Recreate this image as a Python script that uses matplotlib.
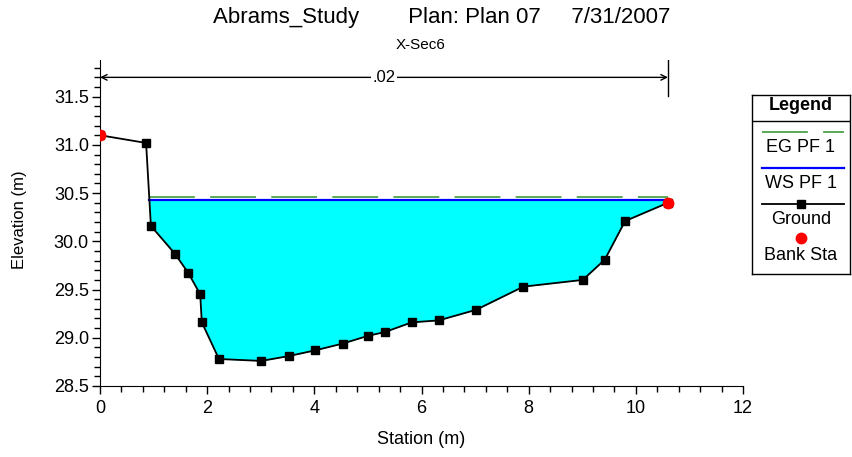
import matplotlib
matplotlib.use("Agg")
import matplotlib.pyplot as plt
import numpy as np
from matplotlib.ticker import MultipleLocator, FormatStrFormatter

plt.rcParams['font.family'] = ['Liberation Sans', 'DejaVu Sans']
plt.rcParams['lines.scale_dashes'] = False

# Cross-section data
station = [0.0, 0.86, 0.95, 1.40, 1.65, 1.87, 1.90, 2.22, 3.01, 3.52, 4.02,
           4.53, 5.00, 5.32, 5.82, 6.32, 7.02, 7.90, 9.01, 9.42, 9.80, 10.60]
elevation = [31.10, 31.02, 30.16, 29.87, 29.67, 29.45, 29.16, 28.78, 28.76, 28.81, 28.87,
             28.94, 29.02, 29.06, 29.16, 29.18, 29.29, 29.53, 29.60, 29.81, 30.21, 30.40]
bank_sta = [0.0, 10.60]
ws_elev = 30.43
eg_elev = 30.46
n_value = ".02"

title = "Abrams_Study        Plan: Plan 07     7/31/2007"
subtitle = "X-Sec6"

W, H = 852, 457
fig = plt.figure(figsize=(W / 100, H / 100), dpi=100)
ax = fig.add_axes([100 / W, (H - 386) / H, 643 / W, 326 / H])

sta = np.array(station)
elv = np.array(elevation)

# left edge of water: where the ground drops below the water surface
i = int(np.argmax(elv < ws_elev))
x_left = sta[i - 1] + (elv[i - 1] - ws_elev) / (elv[i - 1] - elv[i]) * (sta[i] - sta[i - 1])
x_right = sta[-1]

ax.fill_between(sta, elv, ws_elev, where=elv <= ws_elev, interpolate=True,
                color='#00ffff', lw=0, zorder=1)
ax.plot([x_left, x_right], [eg_elev, eg_elev], color='#3c9a3c', lw=1.2,
        linestyle=(0, (33, 11)), zorder=2)
ax.plot([x_left, x_right], [ws_elev, ws_elev], color='#0000ff', lw=1.6, zorder=3)
ax.plot(sta, elv, color='black', lw=1.3, marker='s', markersize=6, zorder=4)
bank_elev = np.interp(bank_sta, sta, elv)
ax.plot(bank_sta, bank_elev, 'o', color='#ff0000', markersize=7.5, lw=0, zorder=5)

ax.set_xlim(0, 12)
ax.set_ylim(28.5, 31.88)

# n-value marker above the cross section
ax.plot([bank_sta[1], bank_sta[1]], [31.51, 31.88], color='black', lw=1)
ax.annotate('', xy=(bank_sta[0], 31.70), xytext=(bank_sta[1], 31.70),
            arrowprops=dict(arrowstyle='<->', color='black', lw=1,
                            shrinkA=0, shrinkB=0, mutation_scale=10))
ax.text(sum(bank_sta) / 2, 31.70, n_value, ha='center', va='center', fontsize=12,
        bbox=dict(facecolor='white', edgecolor='none', pad=1))

for s in ['top', 'right']:
    ax.spines[s].set_visible(False)
ax.xaxis.set_major_locator(MultipleLocator(2))
ax.xaxis.set_minor_locator(MultipleLocator(0.4))
ax.set_yticks([28.5, 29.0, 29.5, 30.0, 30.5, 31.0, 31.5])
ax.yaxis.set_minor_locator(MultipleLocator(0.1))
ax.yaxis.set_major_formatter(FormatStrFormatter('%.1f'))
ax.tick_params(which='major', length=6, width=1, labelsize=13, pad=2)
ax.tick_params(axis='x', which='major', pad=4)
ax.tick_params(which='minor', length=4, width=1)

fig.text(442 / W, 1 - 18 / H, title, ha='center', va='center', fontsize=16)
fig.text(421 / W, 1 - 45 / H, subtitle, ha='center', va='center', fontsize=11)
fig.text(421 / W, 1 - 440 / H, "Station (m)", ha='center', va='center', fontsize=13)
fig.text(20 / W, 1 - 220 / H, "Elevation (m)", ha='center', va='center',
         rotation=90, fontsize=12)

# legend box drawn by hand (pixel coordinates inside the box)
lg = fig.add_axes([752 / W, (H - 274) / H, 98 / W, 179 / H])
lg.set_xlim(0, 98)
lg.set_ylim(179, 0)
lg.set_xticks([])
lg.set_yticks([])
for s in lg.spines.values():
    s.set_linewidth(1)
cx = 49
lg.text(cx, 11, "Legend", ha='center', va='center', fontsize=13, fontweight='bold')
lg.axhline(26, color='black', lw=1)
lg.plot([10, 92], [37, 37], color='#3c9a3c', lw=1.2, linestyle=(0, (33, 11)))
lg.text(cx, 53, "EG PF 1", ha='center', va='center', fontsize=13)
lg.plot([10, 92], [73, 73], color='#0000ff', lw=1.6)
lg.text(cx, 89, "WS PF 1", ha='center', va='center', fontsize=13)
lg.plot([10, 92], [109, 109], color='black', lw=1.3)
lg.plot([cx], [109], 's', color='black', markersize=6)
lg.text(cx, 124, "Ground", ha='center', va='center', fontsize=13)
lg.plot([cx], [143], 'o', color='#ff0000', markersize=7.5)
lg.text(cx, 161, "Bank Sta", ha='center', va='center', fontsize=13)

fig.savefig('out.png', dpi=100)
